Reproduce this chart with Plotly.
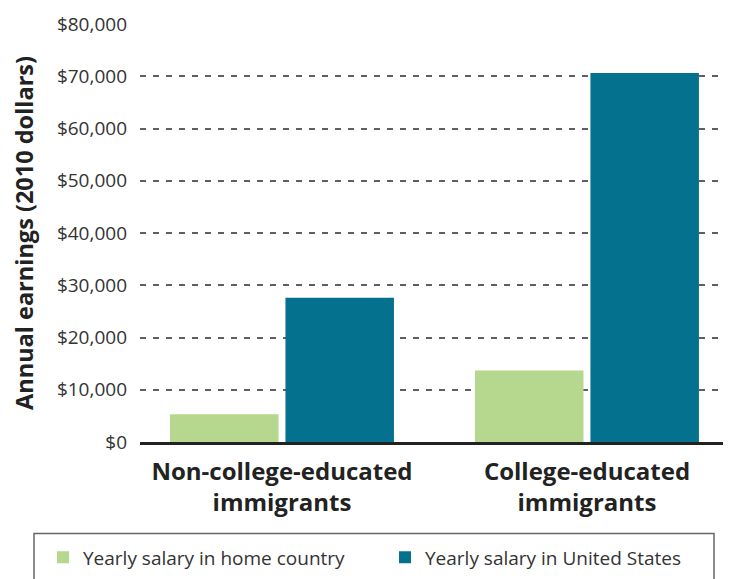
import plotly.graph_objects as go

categories = ["Non-college-educated<br>immigrants", "College-educated<br>immigrants"]
home_country = [5300, 13700]
united_states = [27600, 70600]
series_names = ["Yearly salary in home country", "Yearly salary in United States"]
tick_values = [0, 10000, 20000, 30000, 40000, 50000, 60000, 70000, 80000]
tick_labels = ["$0", "$10,000", "$20,000", "$30,000", "$40,000", "$50,000", "$60,000", "$70,000", "$80,000"]

FONT = "Open Sans"
OFF = 8  # page body margin
W, H = 731 - OFF, 579 - OFF
L, R, T = 140 - OFF, 1, 24 - OFF
B = H - (442.5 - OFF)
pw, ph = W - L - R, H - T - B

def px_x(p):
    return (p - OFF - L) / pw

def px_y(p):
    return (H - B - (p - OFF)) / ph

fig = go.Figure()
fig.add_trace(go.Bar(x=[0, 1], y=home_country, name=series_names[0],
                     marker=dict(color="#b5d78e", line=dict(width=0))))
fig.add_trace(go.Bar(x=[0, 1], y=united_states, name=series_names[1],
                     marker=dict(color="#04718f", line=dict(width=0))))

fig.update_layout(
    width=W, height=H,
    margin=dict(l=L, r=R, t=T, b=B, pad=0, autoexpand=False),
    paper_bgcolor="white", plot_bgcolor="white",
    barmode="group", bargap=0.243, bargroupgap=0.06,
    font=dict(family=FONT, color="#2b2b2b"),
    showlegend=True,
    legend=dict(orientation="h", x=px_x(43), y=px_y(558), xanchor="left", yanchor="middle",
                font=dict(family=FONT, size=19, color="#333333"),
                entrywidth=297, entrywidthmode="pixels",
                bgcolor="rgba(0,0,0,0)", borderwidth=0, itemclick=False),
    shapes=[dict(type="rect", xref="paper", yref="paper",
                 x0=px_x(34), x1=px_x(714), y0=px_y(534), y1=px_y(600),
                 line=dict(color="#666666", width=1.5), fillcolor="rgba(0,0,0,0)", layer="above")],
)

fig.update_xaxes(
    range=[-0.4656, 1.469], tickmode="array", tickvals=[0, 1], ticktext=categories,
    tickfont=dict(family=FONT, size=24, color="#222222", weight="bold"),
    ticks="", ticklabelstandoff=6, automargin=False,
    showline=True, linecolor="#222222", linewidth=3, showgrid=False, zeroline=False,
)
fig.update_yaxes(
    range=[0, 80000], tickmode="array", tickvals=tick_values, ticktext=tick_labels,
    tickfont=dict(family=FONT, size=19, color="#333333"),
    ticks="", ticklabelstandoff=12, automargin=False,
    showgrid=True, gridcolor="#5f5f5f", gridwidth=1.5, griddash="6px,7px",
    zeroline=False, showline=False,
    title=dict(text="Annual earnings (2010 dollars)", standoff=22,
               font=dict(family=FONT, size=23.5, color="#222222", weight="bold")),
)

fig.write_html("out.html")
